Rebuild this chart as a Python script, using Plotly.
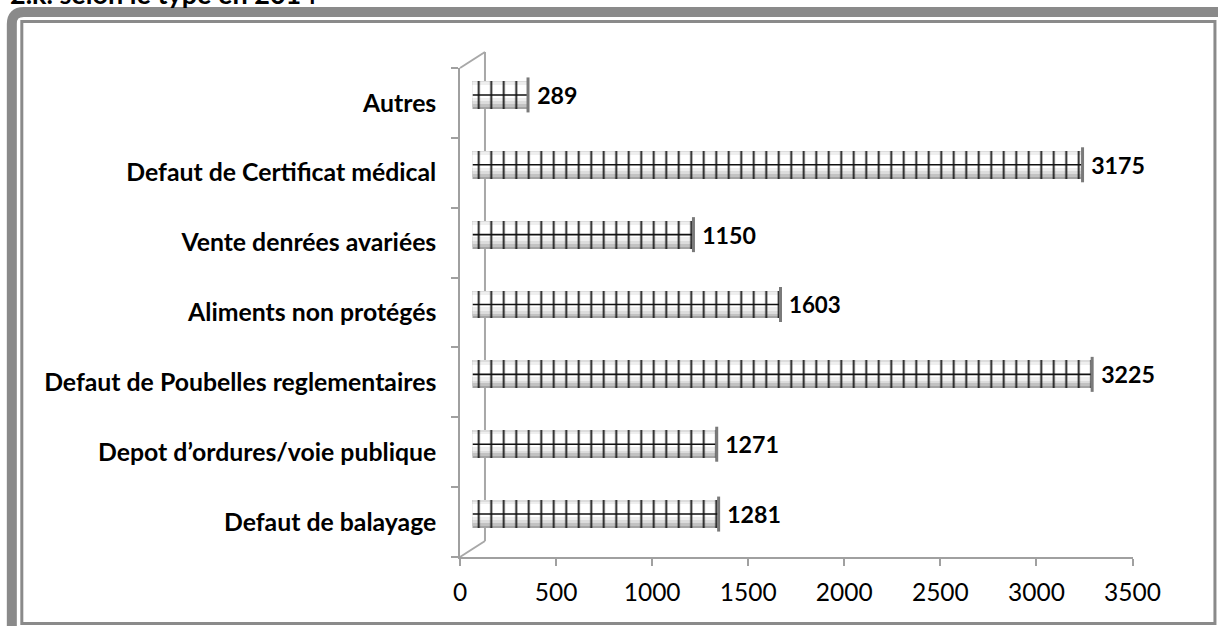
import plotly.graph_objects as go

# ---- data ----
categories = [
    "Defaut de balayage",
    "Depot d’ordures/voie publique",
    "Defaut de Poubelles reglementaires",
    "Aliments non protégés",
    "Vente denrées avariées",
    "Defaut de Certificat médical",
    "Autres",
]
values = [1281, 1271, 3225, 1603, 1150, 3175, 289]
x_ticks = [0, 500, 1000, 1500, 2000, 2500, 3000, 3500]
title_text = "2.k. selon le type en 2014"

# ---- geometry (pixels) ----
FIG_W, FIG_H = 1218, 626
L, R_FRONT, T_FRONT, B = 460, 1133, 68, 557
DX, DY = 25, 16          # 3D depth offset of back wall
HX, HY = 12.5, 8         # bars sit at half depth
W = (R_FRONT - L) + HX
H = (B - T_FRONT) + HY
margin = dict(l=L, r=FIG_W - (R_FRONT + HX), t=T_FRONT - HY, b=FIG_H - B, pad=0)


def fx(px):
    return (px - L) / W


def fy(py):
    return (B - py) / H


FONT = "Lato"
GRAY_AX = "#a0a0a0"
FRAME = "#8a8a8a"

fig = go.Figure()

# cylinder shading layers: (offset, width, colour)
shade = [
    (-0.20, 0.40, "#a4a4a4"),
    (-0.17, 0.37, "#c2c2c2"),
    (-0.13, 0.33, "#dcdcdc"),
    (-0.09, 0.27, "#eeeeee"),
    (-0.04, 0.18, "#ffffff"),
]
for i, (off, wd, col) in enumerate(shade):
    fig.add_trace(go.Bar(
        y=categories, x=values, orientation="h", width=wd, offset=off,
        marker=dict(color=col, line=dict(width=0)),
        xaxis="x2", yaxis="y2", showlegend=False, hoverinfo="skip",
        text=["\u00a0" + str(v) for v in values] if i == 0 else None,
        textposition="outside" if i == 0 else "none",
        textfont=dict(family=FONT, size=24, color="black", weight="bold"),
        cliponaxis=False,
    ))

# rib pattern
fig.add_trace(go.Bar(
    y=categories, x=values, orientation="h", width=0.40, offset=-0.20,
    marker=dict(color="#1a1a1a", line=dict(width=0),
                pattern=dict(shape="|", size=12.5, solidity=0.15, fillmode="replace")),
    xaxis="x2", yaxis="y2", showlegend=False, hoverinfo="skip",
))

# horizontal centre line of each cylinder
hx, hy = [], []
for c, v in zip(categories, values):
    hx += [0, v, None]
    hy += [c, c, None]
fig.add_trace(go.Scatter(
    x=hx, y=hy, mode="lines", line=dict(color="#111111", width=1.6),
    xaxis="x2", yaxis="y2", showlegend=False, hoverinfo="skip", cliponaxis=False,
))

# end caps
fig.add_trace(go.Scatter(
    x=values, y=categories, mode="markers",
    marker=dict(symbol="line-ns", size=25, line=dict(color="#7a7a7a", width=3)),
    xaxis="x2", yaxis="y2", showlegend=False, hoverinfo="skip", cliponaxis=False,
))

# invisible trace to activate front axes
fig.add_trace(go.Scatter(x=[None], y=[None], xaxis="x", yaxis="y", showlegend=False))

shapes = [
    # back wall and depth edges
    dict(type="line", xref="paper", yref="paper", x0=fx(L + DX), y0=fy(T_FRONT - DY),
         x1=fx(L + DX), y1=fy(B - DY), line=dict(color="#a8a8a8", width=2), layer="below"),
    dict(type="line", xref="paper", yref="paper", x0=fx(L), y0=fy(T_FRONT),
         x1=fx(L + DX), y1=fy(T_FRONT - DY), line=dict(color="#a8a8a8", width=2), layer="below"),
    dict(type="line", xref="paper", yref="paper", x0=fx(L), y0=fy(B),
         x1=fx(L + DX), y1=fy(B - DY), line=dict(color="#a8a8a8", width=2), layer="below"),
    # frame: outer rounded band
    dict(type="path", xref="paper", yref="paper",
         path=(f"M {fx(11.5)},{fy(640)} L {fx(11.5)},{fy(24)} "
               f"Q {fx(11.5)},{fy(12)} {fx(23.5)},{fy(12)} L {fx(1240)},{fy(12)}"),
         line=dict(color=FRAME, width=10)),
    # frame: inner rectangle
    dict(type="rect", xref="paper", yref="paper", x0=fx(21.5), y0=fy(623.5),
         x1=fx(1215.5), y1=fy(21.5), line=dict(color=FRAME, width=3)),
]

fig.update_layout(
    width=FIG_W, height=FIG_H, margin=margin,
    paper_bgcolor="white", plot_bgcolor="rgba(0,0,0,0)",
    barmode="overlay", bargap=0,
    font=dict(family=FONT, color="black"),
    shapes=shapes,
    xaxis=dict(domain=[0, (R_FRONT - L) / W], range=[0, 3500], tickvals=x_ticks,
               showgrid=False, zeroline=False, showline=True, linecolor=GRAY_AX, linewidth=1.5,
               ticks="outside", ticklen=7, tickcolor=GRAY_AX, tickwidth=1.5,
               tickfont=dict(family=FONT, size=24.5, color="black"), ticklabelstandoff=6,
               anchor="y", fixedrange=True),
    yaxis=dict(domain=[0, (B - T_FRONT) / H], type="category", categoryorder="array",
               categoryarray=categories, range=[-0.5, 6.5],
               showgrid=False, zeroline=False, showline=True, linecolor=GRAY_AX, linewidth=1.5,
               ticks="outside", ticklen=7, tickcolor=GRAY_AX, tickwidth=1.5, tickson="boundaries",
               tickfont=dict(family=FONT, size=24.8, color="black", weight="bold"),
               ticklabelstandoff=17, anchor="x", fixedrange=True),
    xaxis2=dict(domain=[HX / W, 1], range=[0, 3500], visible=False, anchor="y2",
                fixedrange=True),
    yaxis2=dict(domain=[HY / H, 1], type="category", categoryorder="array",
                categoryarray=categories, range=[-0.5, 6.5], visible=False, anchor="x2",
                fixedrange=True),
    annotations=[dict(text=f"<b>{title_text}</b>", xref="paper", yref="paper",
                      x=fx(8), y=fy(12), xanchor="left", yanchor="bottom", showarrow=False,
                      font=dict(family=FONT, size=27, color="black"))],
)

fig.write_html(
    "out.html",
    config={"displayModeBar": False},
    post_script="document.body.style.margin='0';document.body.style.overflow='hidden';",
)
